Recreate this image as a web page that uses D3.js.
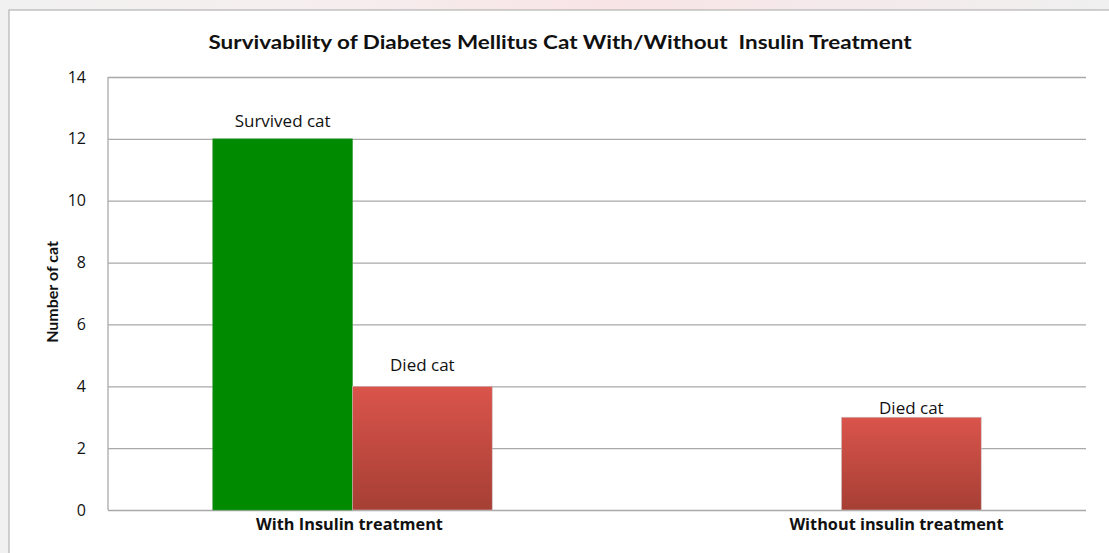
<html>
<head>
    <script src="https://d3js.org/d3.v7.min.js"></script>
    <style>
        body { margin: 0; background: #fff; }
        text { font-family: Lato, 'Open Sans', sans-serif; }
    </style>
</head>
<body>
    <svg width="1109" height="553"></svg>
    <script>
        // data
        var categories = ['With Insulin treatment', 'Without insulin treatment']
        var seriesNames = ['Survived cat', 'Died cat']
        var survived = [12, 0]
        var died = [4, 3]
        var yTicks = [0, 2, 4, 6, 8, 10, 12, 14]

        var svg = d3.select('svg')
        var W = 1109, H = 553
        var m = { left: 108, right: 1086, top: 77, bottom: 510 }
        // gap between bar top and its label baseline, per category / series
        var labelGap = [[12, 15], [0, 3]]

        // page background round the chart box
        var defs = svg.append('defs')
        var bg = defs.append('linearGradient').attr('id', 'bg').attr('x1', 0).attr('x2', 1)
        bg.append('stop').attr('offset', '0').attr('stop-color', '#f1f1f1')
        bg.append('stop').attr('offset', '0.3').attr('stop-color', '#f6eeee')
        bg.append('stop').attr('offset', '0.55').attr('stop-color', '#f8e4e6')
        bg.append('stop').attr('offset', '1').attr('stop-color', '#f0f0f0')
        svg.append('rect').attr('width', W).attr('height', H).attr('fill', 'url(#bg)')
        svg.append('rect').attr('x', 9).attr('y', 10).attr('width', W).attr('height', H)
            .attr('fill', '#fff').attr('stroke', '#b4b4b4').attr('stroke-width', 1.2)

        var red = defs.append('linearGradient').attr('id', 'red').attr('x1', 0).attr('x2', 0).attr('y1', 0).attr('y2', 1)
        red.append('stop').attr('offset', '0').attr('stop-color', '#da544b')
        red.append('stop').attr('offset', '1').attr('stop-color', '#a63f35')

        var y = d3.scaleLinear().domain([0, 14]).range([m.bottom, m.top])
        var x0 = d3.scaleBand().domain(categories).range([m.left, m.right])
        var x1 = d3.scaleBand().domain(seriesNames).range([0, x0.bandwidth()]).paddingOuter(0.75)

        // gridlines
        svg.append('g')
            .attr('transform', 'translate(' + m.left + ',0)')
            .call(d3.axisLeft(y).tickValues(yTicks).tickSize(-(m.right - m.left)).tickFormat(''))
            .call(function(g) {
                g.select('.domain').remove()
                g.selectAll('line').attr('stroke', '#a9a9a9').attr('stroke-width', 1.3)
            })
        svg.append('line')
            .attr('x1', m.left).attr('x2', m.left).attr('y1', m.top).attr('y2', m.bottom)
            .attr('stroke', '#a9a9a9').attr('stroke-width', 1.3)

        // y tick labels
        svg.append('g')
            .attr('transform', 'translate(' + (m.left - 19) + ',0)')
            .call(d3.axisLeft(y).tickValues(yTicks).tickSize(0))
            .call(function(g) {
                g.select('.domain').remove()
                g.selectAll('text').attr('font-size', 16).attr('fill', '#111')
                    .style('font-family', "'Open Sans', sans-serif")
            })

        var rows = categories.map(function(c, i) {
            return [{ ci: i, si: 0, cat: c, key: 'Survived cat', v: survived[i] },
                    { ci: i, si: 1, cat: c, key: 'Died cat', v: died[i] }]
        })

        var groups = svg.selectAll('g.grp').data(rows).enter().append('g')
            .attr('class', 'grp')
            .attr('transform', function(d) { return 'translate(' + x0(d[0].cat) + ',0)' })

        var bars = groups.selectAll('g.bar').data(function(d) { return d.filter(function(e) { return e.v > 0 }) })
            .enter().append('g').attr('class', 'bar')
        bars.append('rect')
            .attr('x', function(d) { return x1(d.key) })
            .attr('y', function(d) { return y(d.v) })
            .attr('width', x1.bandwidth())
            .attr('height', function(d) { return y(0) - y(d.v) })
            .attr('fill', function(d) { return d.key === 'Survived cat' ? '#008a00' : 'url(#red)' })
            .attr('stroke', function(d) { return d.key === 'Survived cat' ? '#3a9a3a' : '#c9c0c0' })
            .attr('stroke-width', 0.6)
        bars.append('text')
            .attr('x', function(d) { return x1(d.key) + x1.bandwidth() / 2 })
            .attr('y', function(d) { return y(d.v) - labelGap[d.ci][d.si] })
            .attr('text-anchor', 'middle')
            .attr('font-size', 17)
            .attr('fill', '#111')
            .style('font-family', "'Open Sans', sans-serif")
            .text(function(d) { return d.key })

        // x axis labels
        svg.append('g')
            .attr('transform', 'translate(0,' + (m.bottom + 6) + ')')
            .call(d3.axisBottom(x0).tickSize(0))
            .call(function(g) {
                g.select('.domain').remove()
                g.selectAll('text').attr('font-size', 16.3).attr('font-weight', 'bold').attr('fill', '#111')
                    .attr('y', 14).attr('dy', 0)
                    .style('font-family', "'Open Sans', sans-serif")
                    .attr('dx', function(d, i) { return i === 1 ? 55 : -3 })
            })

        // titles
        svg.append('text')
            .attr('x', 560).attr('y', 49)
            .attr('text-anchor', 'middle')
            .style('white-space', 'pre')
            .attr('font-size', 18.5).attr('font-weight', 'bold').attr('fill', '#111')
            .attr('textLength', 703).attr('lengthAdjust', 'spacingAndGlyphs')
            .text('Survivability of Diabetes Mellitus Cat With/Without  Insulin Treatment')

        svg.append('text')
            .attr('transform', 'translate(58,292) rotate(-90)')
            .attr('text-anchor', 'middle')
            .attr('font-size', 16).attr('font-weight', 'bold').attr('fill', '#111')
            .text('Number of cat')
    </script>
</body>
</html>
